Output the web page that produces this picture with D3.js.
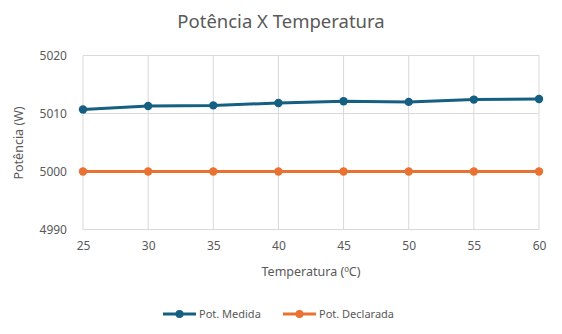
<!DOCTYPE html>
<html><head><meta charset="utf-8">
<script src="https://cdn.jsdelivr.net/npm/d3@7"></script>
<style>body{margin:0;background:#fff;}svg{display:block;font-family:"Noto Sans",sans-serif;}</style>
</head><body><svg id="c" width="562" height="334"></svg>
<script>
const temperatures = [25, 30, 35, 40, 45, 50, 55, 60];
const potMedida = [5010.7, 5011.3, 5011.4, 5011.8, 5012.1, 5012.0, 5012.4, 5012.5];
const potDeclarada = [5000, 5000, 5000, 5000, 5000, 5000, 5000, 5000];
const yTicks = [4990, 5000, 5010, 5020];
const seriesNames = ["Pot. Medida", "Pot. Declarada"];
const colors = ["#156082", "#E97132"];

const svg = d3.select("#c");
const x = d3.scaleLinear().domain([25, 60]).range([83, 539]);
const y = d3.scaleLinear().domain([4990, 5020]).range([229.5, 55.5]);
const grid = "#d9d9d9", txt = "#595959";

svg.append("text").attr("x", 281).attr("y", 28).attr("text-anchor", "middle")
  .attr("font-size", 18.5).attr("fill", txt).text("Potência X Temperatura");

// grid
svg.append("g").selectAll("line").data(yTicks).join("line")
  .attr("x1", x(25)).attr("x2", x(60)).attr("y1", d => y(d)).attr("y2", d => y(d))
  .attr("stroke", grid).attr("stroke-width", 1);
svg.append("g").selectAll("line").data(temperatures).join("line")
  .attr("x1", d => x(d)).attr("x2", d => x(d)).attr("y1", y(5020)).attr("y2", y(4990))
  .attr("stroke", grid).attr("stroke-width", 1);

// axes labels
const yAxis = svg.append("g").attr("transform", `translate(${x(25) - 13},0)`)
  .call(d3.axisLeft(y).tickValues(yTicks).tickSize(0).tickFormat(d3.format("d")));
yAxis.select(".domain").remove();
yAxis.selectAll("text").attr("font-size", 12).attr("fill", txt).attr("font-family", "Noto Sans");
const xAxis = svg.append("g").attr("transform", `translate(0,${y(4990) + 9})`)
  .call(d3.axisBottom(x).tickValues(temperatures).tickSize(0));
xAxis.select(".domain").remove();
xAxis.selectAll("text").attr("font-size", 12).attr("fill", txt).attr("font-family", "Noto Sans");

svg.append("text").attr("x", 311).attr("y", 276).attr("text-anchor", "middle")
  .attr("font-size", 12.5).attr("fill", txt).text("Temperatura (ºC)");
svg.append("text").attr("transform", "translate(23,143) rotate(-90)").attr("text-anchor", "middle")
  .attr("font-size", 12.5).attr("fill", txt).text("Potência (W)");

const data = [potMedida, potDeclarada];
const line = d3.line().x((d, i) => x(temperatures[i])).y(d => y(d));
data.forEach((s, k) => {
  svg.append("path").datum(s).attr("d", line).attr("fill", "none")
    .attr("stroke", colors[k]).attr("stroke-width", 3).attr("stroke-linejoin", "round");
  svg.append("g").selectAll("circle").data(s).join("circle")
    .attr("cx", (d, i) => x(temperatures[i])).attr("cy", d => y(d)).attr("r", 4.2)
    .attr("fill", colors[k]);
});

// legend
const legX = [163, 283];
seriesNames.forEach((n, k) => {
  const g = svg.append("g").attr("transform", `translate(${legX[k]},314)`);
  g.append("line").attr("x1", 0).attr("x2", 33).attr("stroke", colors[k]).attr("stroke-width", 3);
  g.append("circle").attr("cx", 16.5).attr("r", 4).attr("fill", colors[k]);
  g.append("text").attr("x", 36).attr("y", 4).attr("font-size", 11).attr("fill", txt).text(n);
});
</script></body></html>
